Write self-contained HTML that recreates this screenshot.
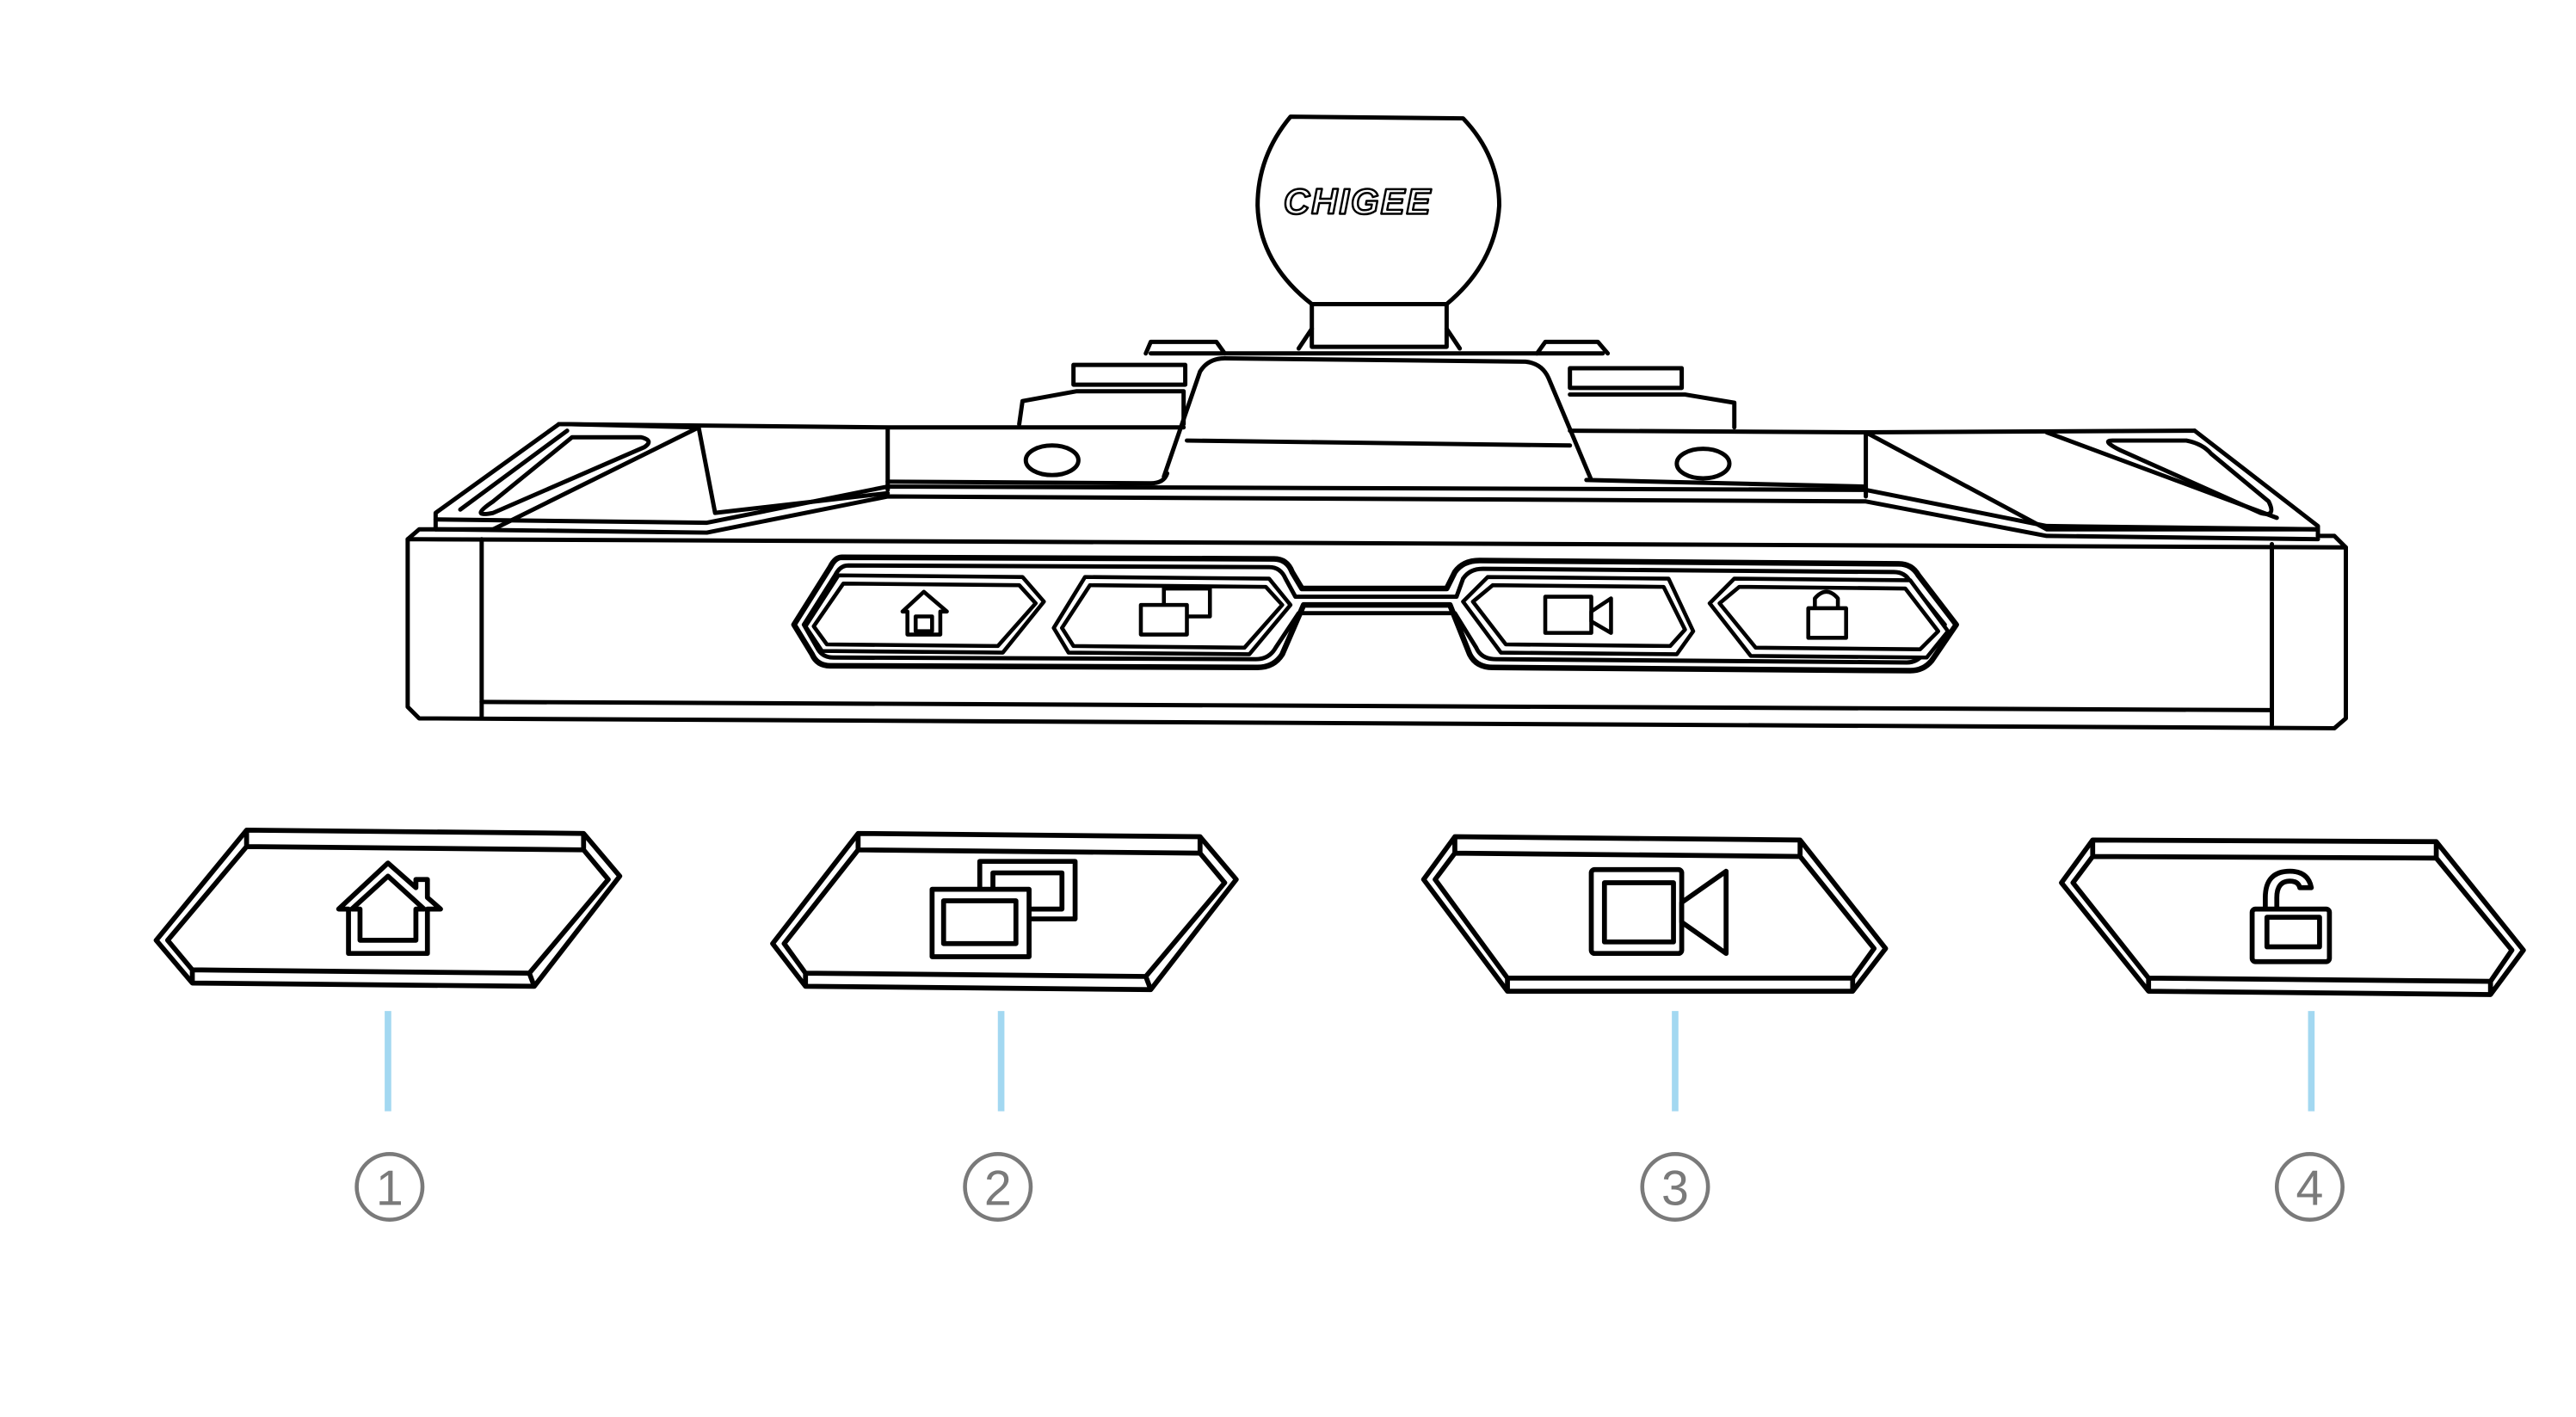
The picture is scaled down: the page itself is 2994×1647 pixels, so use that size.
<!DOCTYPE html>
<html><head><meta charset="utf-8"><style>
html,body{margin:0;padding:0;background:#fff;width:2994px;height:1647px;overflow:hidden}
svg{display:block}
</style></head><body>
<svg width="2994" height="1647" viewBox="0 0 1567 862" preserveAspectRatio="none" xmlns="http://www.w3.org/2000/svg">
<g fill="none" stroke="#000" stroke-width="2.6" stroke-linejoin="round" stroke-linecap="round">
<path d="M785,71 L890,72 Q912,95 912,125 Q910,160 880,185 L798,185 Q766,160 765,125 Q765,95 785,71 Z" fill="#fff"/>
<rect x="798" y="185" width="82" height="26"/>
<path d="M790,212 L798,200 M888,212 L880,200"/>
<text x="826" y="130" font-family="Liberation Sans, sans-serif" font-style="italic" font-weight="bold" font-size="22" fill="#fff" stroke="#000" stroke-width="1.3" text-anchor="middle" letter-spacing="1">CHIGEE</text>
<path d="M697,215 L700,208 L740,208 L745,215"/>
<path d="M935,215 L940,208 L972,208 L978,215"/>
<rect x="653" y="222" width="68" height="12"/>
<rect x="955" y="224" width="68" height="12"/>
<path d="M620,258 L622,244 L655,238 L720,238 L720,258"/>
<path d="M955,240 L1025,240 L1055,245 L1055,260"/>
<path d="M700,215 L975,215"/>
<path d="M708,290 L730,226 Q735,218 745,218 L928,220 Q938,221 942,230 L968,292"/>
<path d="M722,268 L955,271"/>
<path d="M340,258 L540,260 L540,298 M540,260 L720,260 M955,262 L1135,263 L1135,302 M1135,263 L1335,262"/>
<path d="M540,293 L700,294 Q708,294 710,288 M965,292 L1135,296"/>
<ellipse cx="640" cy="280" rx="16" ry="9"/>
<ellipse cx="1036" cy="282" rx="16" ry="9"/>
<path d="M340,258 L265,312 L265,322 L300,322"/>
<path d="M340,258 L345,258 L425,260 L435,312 L540,300"/>
<path d="M425,260 L300,322"/>
<path d="M348,266 L390,266 Q398,268 392,272 L300,312 Q285,315 300,305 Z"/>
<path d="M280,310 L345,262"/>
<path d="M1335,262 L1410,320 L1410,326"/>
<path d="M1135,263 L1245,322 L1410,322"/>
<path d="M1245,263 L1385,315"/>
<path d="M1285,268 L1330,268 Q1340,270 1345,276 L1380,305 Q1385,315 1375,312 L1290,274 Q1278,268 1285,268 Z"/>
<path d="M265,322 L430,324 L540,302 L1135,305 L1245,326 L1410,328"/>
<path d="M265,316 L430,318 L540,296 L1135,298 L1245,320 L1410,322"/>
<path d="M248,328 L1427,333 L1427,437 L1420,443 L255,437 L248,430 Z"/>
<path d="M248,328 L255,322 L265,322 M1410,326 L1420,326 L1427,333"/>
<path d="M293,328 L293,437 M1382,331 L1382,441"/>
<path d="M293,427 L1382,432"/>
<path d="M512,339 L775,340 Q783,340 786,348 L792,358 L880,358 L885,348 Q890,341 900,341 L1155,343 Q1163,343 1167,350 L1190,380 L1175,402 Q1170,408 1162,408 L908,406 Q898,406 894,398 L882,368 L793,368 L780,398 Q775,406 765,406 L505,405 Q497,405 494,398 L483,380 L505,345 Q508,339 512,339 Z" stroke-width="3.4"/>
<path d="M516,344 L772,345 Q779,345 782,352 L788,363 L886,363 L890,352 Q894,346 902,346 L1152,348 Q1159,348 1162,354 L1183,380 L1170,398 Q1166,403 1160,403 L910,401 Q901,401 898,394 L885,373 L790,373 L776,394 Q772,401 764,401 L507,400 Q500,400 497,394 L489,380 L508,350 Q511,344 516,344 Z"/>
</g>
<g fill="#fff" stroke="#000" stroke-width="2.4" stroke-linejoin="round">
<path d="M510,350 L622,351 L635,366 L610,397 L500,396 L490,381 Z"/>
<path d="M513,355 L620,356 L630,367 L607,393 L503,392 L495,381 Z"/>
<path d="M660,351 L772,352 L785,368 L760,398 L650,397 L641,382 Z"/>
<path d="M663,356 L770,357 L780,368 L757,394 L653,393 L646,382 Z"/>
<path d="M905,351 L1015,352 L1030,384 L1020,398 L913,397 L890,366 Z"/>
<path d="M908,356 L1012,357 L1025,383 L1016,393 L916,392 L896,366 Z"/>
<path d="M1055,352 L1162,353 L1185,384 L1172,400 L1065,399 L1040,367 Z"/>
<path d="M1058,357 L1159,358 L1179,384 L1168,395 L1068,394 L1046,367 Z"/>
<path d="M562,360 L549,372 L552,372 L552,386 L572,386 L572,372 L576,372 Z"/>
<rect x="557" y="375" width="10" height="9"/>
<rect x="708" y="358" width="28" height="17"/>
<rect x="694" y="368" width="28" height="18"/>
<rect x="940" y="363" width="28" height="22"/>
<path d="M968,372 L980,364 L980,385 L968,378 Z"/>
<path d="M1104,370 L1104,364 Q1111,356 1118,364 L1118,370"/>
<rect x="1100" y="370" width="23" height="18"/>
</g>
<g fill="#fff" stroke="#000" stroke-width="3" stroke-linejoin="round">
<path d="M150,505 L355,507 L377,533 L325,600 L117,598 L95,572 Z"/>
<path d="M150,505 L150,515 L355,517 L355,507 M355,517 L370,535 L322,592 L325,600 M322,592 L117,590 L117,598 M117,590 L102,572 L150,515" fill="none"/>
<path d="M522,507 L730,509 L752,535 L700,602 L490,600 L470,574 Z"/>
<path d="M522,507 L522,517 L730,519 L730,509 M730,519 L745,537 L697,594 L700,602 M697,594 L490,592 L490,600 M490,592 L477,574 L522,517" fill="none"/>
<path d="M885,509 L1095,511 L1147,577 L1127,603 L917,603 L866,535 Z"/>
<path d="M885,509 L885,519 L1095,521 L1095,511 M1095,521 L1140,577 L1127,595 L1127,603 M1127,595 L917,595 L917,603 M917,595 L873,535 L885,519" fill="none"/>
<path d="M1273,511 L1482,512 L1535,578 L1515,605 L1307,603 L1254,537 Z"/>
<path d="M1273,511 L1273,521 L1482,522 L1482,512 M1482,522 L1528,578 L1515,597 L1515,605 M1515,597 L1307,595 L1307,603 M1307,595 L1261,537 L1273,521" fill="none"/>
<path d="M236,525 L206,553 L212,553 L212,580 L260,580 L260,553 L268,553 L260,546 L260,535 L253,535 L253,540 Z"/>
<path d="M236,533 L214,553 L219,553 L219,572 L253,572 L253,553 L258,553 Z"/>
<rect x="596" y="524" width="58" height="35"/>
<rect x="604" y="531" width="42" height="22" fill="none"/>
<rect x="567" y="541" width="59" height="41"/>
<rect x="574" y="548" width="44" height="26"/>
<rect x="968" y="529" width="55" height="51" rx="2"/>
<rect x="976" y="537" width="42" height="36"/>
<path d="M1023,549 L1050,530 L1050,580 L1023,561 Z"/>
<path d="M1378,557 L1378,546 Q1378,530 1393,530 Q1404,530 1406,540 L1399,540 Q1398,536 1393,536 Q1385,536 1385,546 L1385,557"/>
<rect x="1370" y="553" width="47" height="32" rx="2"/>
<rect x="1379" y="558" width="32" height="18"/>
</g>
<g stroke="#a3d8f1" stroke-width="4">
<line x1="236" y1="615" x2="236" y2="676"/>
<line x1="609" y1="615" x2="609" y2="676"/>
<line x1="1019" y1="615" x2="1019" y2="676"/>
<line x1="1406" y1="615" x2="1406" y2="676"/>
</g>
<g fill="none" stroke="#7a7a7a" stroke-width="2.4">
<circle cx="237" cy="722" r="20"/>
<circle cx="607" cy="722" r="20"/>
<circle cx="1019" cy="722" r="20"/>
<circle cx="1405" cy="722" r="20"/>
</g>
<g fill="#7a7a7a" font-family="Liberation Sans, sans-serif" font-size="30" text-anchor="middle">
<text x="237" y="733">1</text>
<text x="607" y="733">2</text>
<text x="1019" y="733">3</text>
<text x="1405" y="733">4</text>
</g>
</svg>
</body></html>
